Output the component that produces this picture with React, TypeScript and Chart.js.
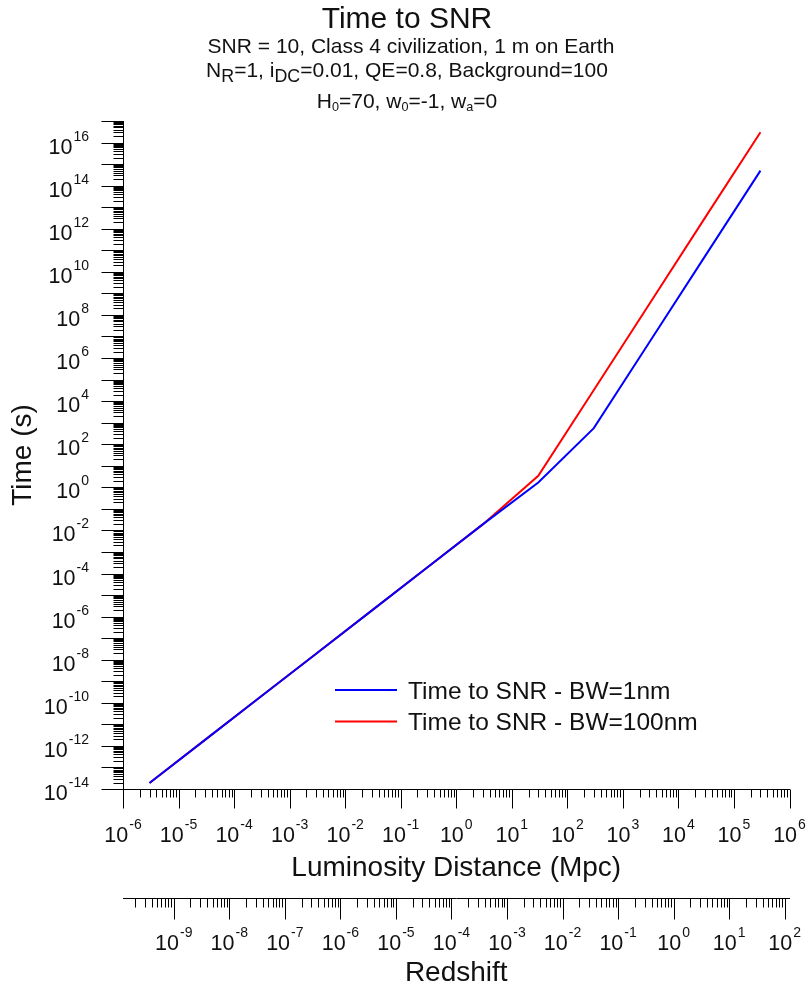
import React, { useEffect, useRef } from 'react';
import { Chart, registerables } from 'chart.js';

Chart.register(...registerables);

// ---- data ----
const DISTANCE_MPC = [3e-6, 3e-5, 3e-4, 3e-3, 3e-2, 3e-1, 3, 30, 300, 3e3, 3e4, 3e5];
const TIME_BW_1NM = [1.9e-14, 1.9e-12, 1.9e-10, 1.9e-8, 1.9e-6, 1.9e-4, 1.9e-2, 1.66, 5.6e2, 5.4e6, 5.2e10, 5.0e14];
const TIME_BW_100NM = [1.9e-14, 1.9e-12, 1.9e-10, 1.9e-8, 1.9e-6, 1.9e-4, 1.9e-2, 3.4, 3.3e4, 3.2e8, 3.2e12, 3.0e16];
const SERIES_LABELS = ['Time to SNR - BW=1nm', 'Time to SNR - BW=100nm'];
const SERIES_COLORS = ['#0000ff', '#ff0000'];

// tick labels (powers of ten)
const Y_LABEL_EXPONENTS = [-14, -12, -10, -8, -6, -4, -2, 0, 2, 4, 6, 8, 10, 12, 14, 16];
const X_LABEL_EXPONENTS = [-6, -5, -4, -3, -2, -1, 0, 1, 2, 3, 4, 5, 6];
const Z_LABEL_EXPONENTS = [-9, -8, -7, -6, -5, -4, -3, -2, -1, 0, 1, 2];

const X_RANGE = [1e-6, 1e6];
const Y_RANGE = [1e-14, 1e17];
const Z_RANGE = [1.22e-10, 1.22e2];

const FONT = '"Liberation Sans", Arial, sans-serif';
const TEXT_COLOR = '#111';

function drawPow(ctx: CanvasRenderingContext2D, exp: number, x: number, baseline: number, align: 'center' | 'right', mainSize: number, supSize: number) {
  const base = '10';
  const sup = String(exp);
  ctx.font = `${mainSize}px ${FONT}`;
  const w1 = ctx.measureText(base).width;
  ctx.font = `${supSize}px ${FONT}`;
  const w2 = ctx.measureText(sup).width;
  const total = w1 + w2 + 1;
  const start = align === 'center' ? x - total / 2 : x - total;
  ctx.textAlign = 'left';
  ctx.textBaseline = 'alphabetic';
  ctx.font = `${mainSize}px ${FONT}`;
  ctx.fillText(base, start, baseline);
  ctx.font = `${supSize}px ${FONT}`;
  ctx.fillText(sup, start + w1 + 1, baseline - 13);
}

function decadeTicks(min: number, max: number) {
  const out: { v: number; major: boolean }[] = [];
  const e0 = Math.floor(Math.log10(min)) - 1;
  const e1 = Math.ceil(Math.log10(max)) + 1;
  for (let e = e0; e <= e1; e++) {
    for (let m = 1; m <= 9; m++) {
      const v = m * Math.pow(10, e);
      if (v < min * 0.99999 || v > max * 1.00001) continue;
      out.push({ v, major: m === 1 });
    }
  }
  return out;
}

const axesPlugin = {
  id: 'powerAxes',
  afterDraw(chart: any) {
    const ctx: CanvasRenderingContext2D = chart.ctx;
    const sx = chart.scales.x;
    const sz = chart.scales.x2;
    const sy = chart.scales.y;
    ctx.save();
    ctx.strokeStyle = '#000';
    ctx.lineWidth = 1;

    const horiz = (scale: any, major: number, minor: number) => {
      const y0 = Math.round(scale.top) + 0.5;
      for (const t of decadeTicks(scale.min, scale.max)) {
        const px = Math.round(scale.getPixelForValue(t.v)) + 0.5;
        ctx.beginPath();
        ctx.moveTo(px, y0);
        ctx.lineTo(px, y0 + (t.major ? major : minor));
        ctx.stroke();
      }
    };
    horiz(sx, 19, 8);
    horiz(sz, 21, 9);

    const x0 = Math.round(sy.right) + 0.5;
    for (const t of decadeTicks(sy.min, sy.max)) {
      const py = Math.round(sy.getPixelForValue(t.v)) + 0.5;
      ctx.beginPath();
      ctx.moveTo(x0, py);
      ctx.lineTo(x0 - (t.major ? 22 : 10), py);
      ctx.stroke();
    }

    ctx.fillStyle = TEXT_COLOR;
    for (const e of X_LABEL_EXPONENTS) {
      drawPow(ctx, e, sx.getPixelForValue(Math.pow(10, e)), sx.top + 52.7, 'center', 21.5, 14);
    }
    for (const e of Z_LABEL_EXPONENTS) {
      drawPow(ctx, e, sz.getPixelForValue(Math.pow(10, e)), sz.top + 51.7, 'center', 21.5, 14);
    }
    for (const e of Y_LABEL_EXPONENTS) {
      drawPow(ctx, e, sy.right - 34, sy.getPixelForValue(Math.pow(10, e)) + 11, 'right', 21.5, 14);
    }

    // legend inside the plot area
    const area = chart.chartArea;
    const lx = area.left + 212;
    const ly = area.top + 569;
    chart.data.datasets.forEach((ds: any, i: number) => {
      const y = ly + i * 31.6;
      ctx.strokeStyle = ds.borderColor;
      ctx.lineWidth = 2;
      ctx.beginPath();
      ctx.moveTo(lx, y);
      ctx.lineTo(lx + 62, y);
      ctx.stroke();
      ctx.fillStyle = TEXT_COLOR;
      ctx.font = `24.5px ${FONT}`;
      ctx.textAlign = 'left';
      ctx.textBaseline = 'alphabetic';
      ctx.fillText(ds.label, lx + 73, y + 8.7);
    });
    ctx.restore();
  },
};

function hiddenLogAxis(min: number, max: number) {
  return {
    type: 'logarithmic' as const,
    min,
    max,
    ticks: { display: false },
    grid: { display: true, drawOnChartArea: false, drawTicks: false },
    border: { display: true, color: '#000', width: 1 },
  };
}

export default function App() {
  const ref = useRef<HTMLCanvasElement | null>(null);

  useEffect(() => {
    if (!ref.current) return;
    const chart = new Chart(ref.current, {
      type: 'line',
      data: {
        datasets: [
          {
            label: SERIES_LABELS[0],
            data: DISTANCE_MPC.map((d, i) => ({ x: d, y: TIME_BW_1NM[i] })),
            borderColor: SERIES_COLORS[0],
            backgroundColor: SERIES_COLORS[0],
            borderWidth: 2,
            pointRadius: 0,
            tension: 0,
          },
          {
            label: SERIES_LABELS[1],
            data: DISTANCE_MPC.map((d, i) => ({ x: d, y: TIME_BW_100NM[i] })),
            borderColor: SERIES_COLORS[1],
            backgroundColor: SERIES_COLORS[1],
            borderWidth: 2,
            pointRadius: 0,
            tension: 0,
          },
        ],
      },
      options: {
        responsive: false,
        animation: false,
        layout: { padding: { top: 121, right: 17.5, left: 0, bottom: 0 } },
        plugins: {
          legend: { display: false },
          title: { display: false },
          tooltip: { enabled: false },
        },
        scales: {
          x: {
            ...hiddenLogAxis(X_RANGE[0], X_RANGE[1]),
            position: 'bottom',
            title: {
              display: true,
              text: 'Luminosity Distance (Mpc)',
              color: TEXT_COLOR,
              font: { family: FONT, size: 28 },
              padding: { top: 0, bottom: 13 },
            },
            afterFit: (s: any) => { s.height = 109; },
          },
          x2: {
            ...hiddenLogAxis(Z_RANGE[0], Z_RANGE[1]),
            axis: 'x',
            position: 'bottom',
            title: {
              display: true,
              text: 'Redshift',
              color: TEXT_COLOR,
              font: { family: FONT, size: 28 },
              padding: { top: 0, bottom: 3 },
            },
            afterFit: (s: any) => { s.height = 95; },
          },
          y: {
            ...hiddenLogAxis(Y_RANGE[0], Y_RANGE[1]),
            position: 'left',
            title: {
              display: true,
              text: 'Time (s)',
              color: TEXT_COLOR,
              font: { family: FONT, size: 28 },
              padding: { top: 6, bottom: 0 },
            },
            afterFit: (s: any) => { s.width = 123; },
          },
        },
      } as any,
      plugins: [axesPlugin],
    });
    return () => chart.destroy();
  }, []);

  const line = (top: number, size: number): React.CSSProperties => ({
    position: 'absolute',
    left: 0,
    width: 814,
    top,
    textAlign: 'center',
    fontFamily: FONT,
    fontSize: size,
    lineHeight: `${size}px`,
    color: TEXT_COLOR,
    whiteSpace: 'nowrap',
  });
  const sub = (scale: number, drop: number): React.CSSProperties => ({
    fontSize: `${scale}em`,
    position: 'relative',
    top: `${drop}em`,
  });

  return (
    <div style={{ position: 'absolute', left: 0, top: 0, width: 807, height: 993, background: '#fff' }}>
      <canvas ref={ref} width={807} height={993} style={{ position: 'absolute', left: 0, top: 0, width: 807, height: 993, display: 'block' }} />
      <div style={line(3, 30)}>Time to SNR</div>
      <div style={{ ...line(35, 21), left: 4 }}>SNR = 10, Class 4 civilization, 1 m on Earth</div>
      <div style={line(59, 21)}>
        N<span style={sub(0.85, 0.3)}>R</span>=1, i<span style={sub(0.85, 0.3)}>DC</span>=0.01, QE=0.8, Background=100
      </div>
      <div style={line(90, 21)}>
        H<span style={sub(0.6, 0.25)}>0</span>=70, w<span style={sub(0.6, 0.25)}>0</span>=-1, w<span style={sub(0.6, 0.25)}>a</span>=0
      </div>
    </div>
  );
}
